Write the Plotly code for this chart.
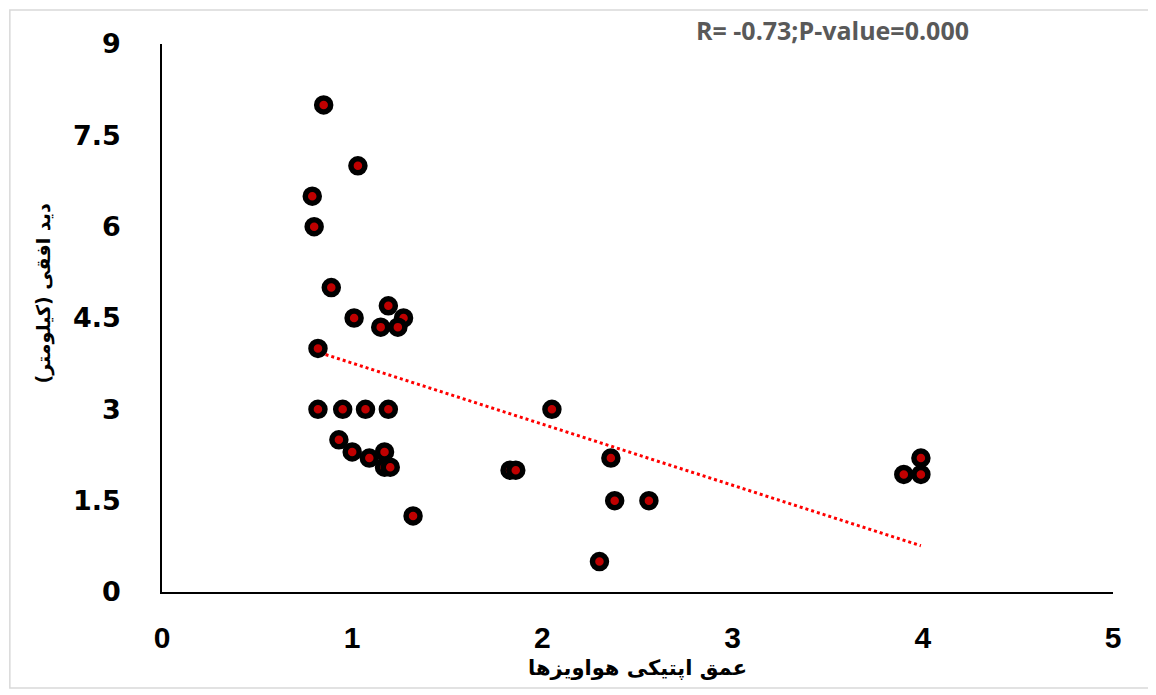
import plotly.graph_objects as go

# Aerosol optical depth (x) vs horizontal visibility km (y)
aod = [0.85, 1.03, 0.79, 0.80, 0.89, 1.19, 1.01, 1.27, 1.15, 1.24,
       0.82, 0.82, 0.95, 1.07, 1.19, 0.93, 1.00, 1.09, 1.17, 1.17,
       1.20, 1.32, 2.05, 1.83, 1.86, 2.36, 2.38, 2.56, 2.30, 3.99,
       3.90, 3.99]
visibility = [8.0, 7.0, 6.5, 6.0, 5.0, 4.7, 4.5, 4.5, 4.35, 4.35,
              4.0, 3.0, 3.0, 3.0, 3.0, 2.5, 2.3, 2.2, 2.3, 2.05,
              2.05, 1.25, 3.0, 2.0, 2.0, 2.2, 1.5, 1.5, 0.5, 2.2,
              1.93, 1.93]

trend_x = [0.80, 3.99]
trend_y = [3.96, 0.76]

x_ticks = [0, 1, 2, 3, 4, 5]
y_ticks = [0, 1.5, 3, 4.5, 6, 7.5, 9]

x_title = "عمق اپتیکی هواویزها"
y_title = "دید افقی (کیلومتر)"
stat_text = "R= -0.73;P-value=0.000"

fig = go.Figure()
fig.add_trace(go.Scatter(
    x=trend_x, y=trend_y, mode="lines",
    line=dict(color="#FF0000", width=3, dash="dot"),
    showlegend=False, hoverinfo="skip"))
fig.add_trace(go.Scatter(
    x=aod, y=visibility, mode="markers",
    marker=dict(size=14, color="#C00000", line=dict(color="black", width=5.5)),
    showlegend=False))

fig.update_layout(
    width=1156, height=695,
    margin=dict(l=154, r=51, t=36, b=111),
    paper_bgcolor="white", plot_bgcolor="white",
    xaxis=dict(range=[0, 5], tickvals=x_ticks, showgrid=False, zeroline=False,
               showline=True, linecolor="black", linewidth=1.5,
               ticks="", ticklabelstandoff=18,
               tickfont=dict(family="Liberation Sans", size=30,
                             color="black", weight="bold")),
    yaxis=dict(range=[0, 9], tickvals=y_ticks, showgrid=False, zeroline=False,
               showline=True, linecolor="black", linewidth=1.5,
               ticks="", ticklabelstandoff=34,
               tickfont=dict(family="DejaVu Sans", size=27, color="black", weight="bold")),
    shapes=[dict(type="rect", xref="paper", yref="paper",
                 x0=-0.160, x1=1.045, y0=-0.175, y1=1.062,
                 line=dict(color="#D9D9D9", width=1.5), layer="below")],
    annotations=[
        dict(text=x_title, xref="paper", yref="paper", x=0.5, y=-0.138,
             showarrow=False, xanchor="center", yanchor="middle",
             font=dict(family="DejaVu Sans", size=21, color="black", weight="bold")),
        dict(text=y_title, xref="paper", yref="paper", x=-0.125, y=0.545,
             showarrow=False, xanchor="center", yanchor="middle", textangle=-90,
             font=dict(family="DejaVu Sans", size=19, color="black", weight="bold")),
        dict(text=stat_text, xref="paper", yref="paper", x=0.705, y=1.026,
             showarrow=False, xanchor="center", yanchor="middle",
             font=dict(family="Open Sans", size=25, color="#595959", weight="bold")),
    ],
)

fig.write_html("out.html")
